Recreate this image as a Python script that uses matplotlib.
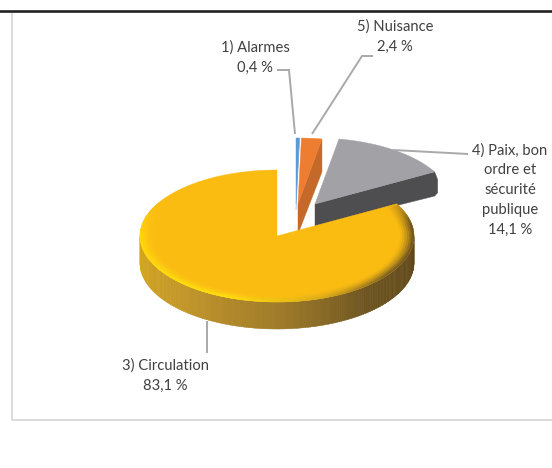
import numpy as np
import matplotlib
matplotlib.use("Agg")
import matplotlib.pyplot as plt
from matplotlib.patches import Polygon
from matplotlib.collections import PolyCollection
from matplotlib.colors import to_rgb

categories = ["1) Alarmes", "5) Nuisance", "4) Paix, bon\nordre et\nsécurité\npublique", "3) Circulation"]
values = [0.4, 2.4, 14.1, 83.1]
value_labels = ["0,4 %", "2,4 %", "14,1 %", "83,1 %"]

top_col = ["#5B9BD5", "#ED7D31", "#A2A2A6", "#FBBC12"]
wall_col = ["#A9C8E8", "#C4692A", "#4E4E50", "#A07C28"]
# pixel offset of each slice tip relative to the pie centre, wall depth
offsets = [(19, -32), (21, -32), (38, -32), (0, 0)]
depths = [6, 30, 22, 27]
bulges = [0, 0, 3, 0]
label_xy = [(255, 57.5), (395, 36.5), (510, 190), (165.5, 375.5)]
leaders = [[(277, 70), (289, 70), (295, 134)],
           [(373, 56), (362, 56), (312, 134)],
           [(468, 154), (393, 150)],
           [(207, 321), (207, 353)]]

CX, CY, RX, RY = 277, 236, 137, 66

plt.rcParams["font.family"] = ["Lato", "DejaVu Sans"]
fig = plt.figure(figsize=(5.52, 4.68), dpi=100)
ax = fig.add_axes([0, 0, 1, 1])
ax.set_xlim(0, 552)
ax.set_ylim(468, 0)
ax.axis("off")

# frame
ax.plot([11.5, 11.5, 552], [12, 419.5, 419.5], color="#DADADA", lw=1.4, zorder=0)
ax.plot([0, 552], [11, 11], color="#222222", lw=1.9, zorder=1)


def pts(a_deg, cx, cy, r=1.0):
    a = np.radians(a_deg)
    return np.column_stack([cx + RX * r * np.cos(a), cy - RY * r * np.sin(a)])


def mix(c1, c2, w):
    return tuple(np.array(to_rgb(c1)) * (1 - w) + np.array(to_rgb(c2)) * w)


# slice angles, clockwise from 12 o'clock
sweeps = np.array(values) / sum(values) * 360
ends = 90 - np.cumsum(sweeps)
starts = ends + sweeps

# exploded slices
for i in [2, 1, 0]:
    cx, cy = CX + offsets[i][0], CY + offsets[i][1]
    arc = pts(np.linspace(starts[i], ends[i], 40), cx, cy)
    d = depths[i]
    b = bulges[i]
    corner = arc[-1]
    ax.add_patch(Polygon([(cx, cy), corner, corner + (b, 0.35 * d), corner + (b, 0.95 * d),
                          corner + (0, d * 1.1), (cx, cy + d)],
                         fc=wall_col[i], ec=wall_col[i], lw=0.3, zorder=3 + (2 - i)))
    ax.add_patch(Polygon(np.vstack([[cx, cy], arc]), fc=top_col[i], ec=top_col[i],
                         lw=0.3, zorder=3.5 + (2 - i)))

# main slice
i = 3
d = depths[i]

polys, cols = [], []
stops = [(180, "#D8A81C"), (225, "#C4982A"), (270, "#A07C2A"), (310, "#6E5522"), (360, "#5E4618")]
sa = np.array([s[0] for s in stops], dtype=float)
rgb = np.array([to_rgb(s[1]) for s in stops])
for a in np.arange(180, 360, 1.0):
    p = pts(np.array([a, a + 1.2]), CX, CY)
    polys.append([p[0], p[1], p[1] + (0, d), p[0] + (0, d)])
    cols.append([np.interp(a, sa, rgb[:, k]) for k in range(3)])
ax.add_collection(PolyCollection(polys, facecolors=cols, edgecolors=cols, linewidths=0.3, zorder=8))

wedge = np.vstack([[CX, CY], pts(np.linspace(starts[i], starts[i] - sweeps[i], 300), CX, CY)])
ax.add_patch(Polygon(wedge, fc=top_col[i], ec=top_col[i], lw=0.3, zorder=9))

# rim bevel (stops short of the slice's straight edge)
polys, cols = [], []
edges = np.linspace(0.90, 1.0, 7)
estops = [(150, "#FBBC12"), (180, "#FFD60E"), (250, "#FFE010"), (290, "#D8A81C"), (325, "#7A5E22"), (370, "#6E5522"), (388, "#D09A18")]
ea = np.array([s[0] for s in estops], dtype=float)
ergb = np.array([to_rgb(s[1]) for s in estops])
for a in np.arange(150, 387.5, 1.0):
    ec = [np.interp(a, ea, ergb[:, k]) for k in range(3)]
    for k in range(len(edges) - 1):
        w = ((k + 1) / (len(edges) - 1)) ** 1.5
        inner = pts(np.array([a, a + 1.2]), CX, CY, edges[k])
        outer = pts(np.array([a, a + 1.2]), CX, CY, edges[k + 1])
        polys.append([inner[0], inner[1], outer[1], outer[0]])
        cols.append(mix(top_col[3], ec, w))
ax.add_collection(PolyCollection(polys, facecolors=cols, edgecolors=cols, linewidths=0.25, zorder=10))

# leaders
for seg in leaders:
    xs, ys = zip(*seg)
    ax.plot(xs, ys, color="#A9A9A9", lw=1.4, zorder=12, solid_capstyle="butt", solid_joinstyle="miter")

# labels
for name, val, (x, y) in zip(categories, value_labels, label_xy):
    ax.text(x, y, name + "\n" + val, ha="center", va="center", fontsize=10.6,
            color="#404040", linespacing=1.52, zorder=13)

fig.savefig("out.png", dpi=100)
